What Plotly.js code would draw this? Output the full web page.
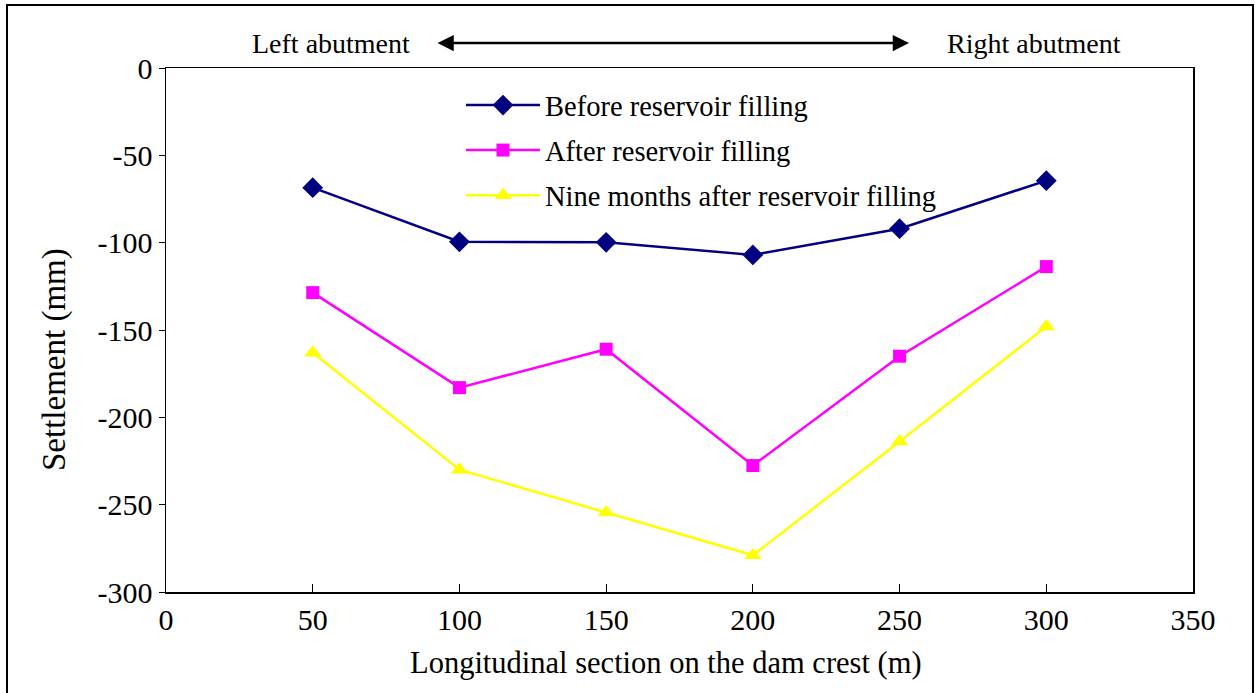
<!DOCTYPE html>
<html>
<head>
<meta charset="utf-8">
<script src="https://cdn.plot.ly/plotly-3.0.1.min.js"></script>
<style>html,body{margin:0;padding:0;background:#fff;}#chart{width:1257px;height:693px;}</style>
</head>
<body>
<div id="chart"></div>
<script>
const xPositions = [50, 100, 150, 200, 250, 300];
const beforeFilling = [-68.5, -99.5, -99.8, -107, -92, -64.5];
const afterFilling = [-128.6, -183, -161, -227.6, -165, -113.7];
const nineMonthsAfter = [-163, -230, -254.5, -279, -213.8, -148];
const seriesNames = ["Before reservoir filling", "After reservoir filling", "Nine months after reservoir filling"];
const xTicks = [0, 50, 100, 150, 200, 250, 300, 350];
const yTicks = [0, -50, -100, -150, -200, -250, -300];
const xTitle = "Longitudinal section on the dam crest (m)";
const yTitle = "Settlement (mm)";

const FONT = '"Liberation Serif", "Times New Roman", serif';

const traces = [
  {x: xPositions, y: beforeFilling, name: seriesNames[0], mode: "lines+markers", legendgroup: "a",
   line: {color: "#000080", width: 2.5}, marker: {symbol: "diamond", size: 16, color: "#000080"}},
  {x: xPositions, y: afterFilling, name: seriesNames[1], mode: "lines+markers", legendgroup: "b",
   line: {color: "#FF00FF", width: 2.5}, marker: {symbol: "square", size: 13, color: "#FF00FF"}},
  {x: xPositions, y: nineMonthsAfter, name: seriesNames[2], mode: "lines+markers", legendgroup: "c",
   line: {color: "#FFFF00", width: 2.5}, marker: {symbol: "triangle-up", size: 15, color: "#FFFF00"}}
];

const P = (px) => (px - 166) / 1027;   // pixel x -> paper
const Q = (py) => (592 - py) / 524;    // pixel y -> paper

const layout = {
  width: 1257, height: 693,
  margin: {l: 166, r: 64, t: 68, b: 101},
  paper_bgcolor: "#fff", plot_bgcolor: "#fff",
  font: {family: FONT, color: "#000", size: 26},
  showlegend: true,
  legend: {x: P(461), y: Q(80), xanchor: "left", yanchor: "top", bgcolor: "rgba(0,0,0,0)",
           font: {family: FONT, size: 28.5, color: "#000"}, traceorder: "grouped",
           tracegroupgap: 5, itemwidth: 74},
  xaxis: {range: [0, 350], tickvals: xTicks, ticktext: xTicks.map(String),
          showgrid: false, zeroline: false, showline: true, linecolor: "#000", linewidth: 1.5,
          mirror: true, ticks: "inside", ticklen: 8, tickcolor: "#000",
          tickfont: {family: FONT, size: 30}, fixedrange: true},
  yaxis: {range: [-300, 0], tickvals: yTicks, ticktext: yTicks.map(String),
          showgrid: false, zeroline: false, showline: true, linecolor: "#000", linewidth: 1.5,
          mirror: true, ticks: "outside", ticklen: 6, tickcolor: "#000",
          tickfont: {family: FONT, size: 30}, fixedrange: true},
  shapes: [
    {type: "rect", xref: "paper", yref: "paper",
     x0: P(7), x1: P(1253), y0: Q(700), y1: Q(5),
     line: {color: "#000", width: 2}, fillcolor: "rgba(0,0,0,0)", layer: "below"}
  ],
  annotations: [
    {xref: "paper", yref: "paper", x: P(666), y: Q(663), xanchor: "center", yanchor: "middle",
     text: xTitle, showarrow: false, font: {family: FONT, size: 30.5}},
    {xref: "paper", yref: "paper", x: P(55), y: Q(360), xanchor: "center", yanchor: "middle",
     text: yTitle, textangle: -90, showarrow: false, font: {family: FONT, size: 33}},
    {xref: "paper", yref: "paper", x: P(331), y: Q(43), xanchor: "center", yanchor: "middle",
     text: "Left abutment", showarrow: false, font: {family: FONT, size: 28}},
    {xref: "paper", yref: "paper", x: P(1034), y: Q(43), xanchor: "center", yanchor: "middle",
     text: "Right abutment", showarrow: false, font: {family: FONT, size: 28}},
    {xref: "paper", yref: "paper", x: P(909), y: Q(43),
     axref: "pixel", ayref: "pixel", ax: -(909 - 436), ay: 0,
     text: "", showarrow: true, arrowhead: 2, startarrowhead: 2, arrowside: "end+start",
     arrowsize: 1.3, startarrowsize: 1.3, arrowwidth: 2.5, arrowcolor: "#000"}
  ]
};

Plotly.newPlot("chart", traces, layout, {displayModeBar: false, staticPlot: true});
</script>
</body>
</html>
